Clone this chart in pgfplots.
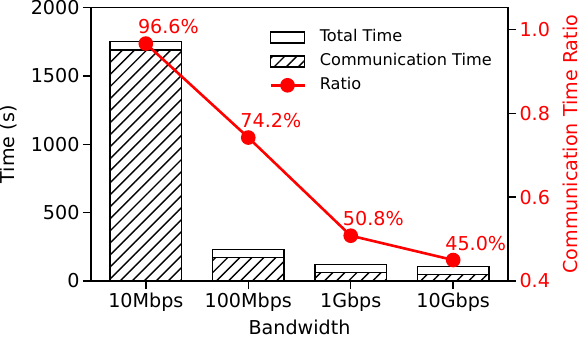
\documentclass[border=0pt]{standalone}
\usepackage{fontspec}
\setmainfont{DejaVu Sans}
\usepackage{pgfplots}
\pgfplotsset{compat=1.18}
\usetikzlibrary{patterns.meta}
\definecolor{cRatio}{HTML}{FF0000}

\newcommand{\fs}{\fontsize{19.2}{23}\selectfont}
\newcommand{\fl}{\fontsize{16.2}{19}\selectfont}

\pgfplotsset{
  basestyle/.style={
    scale only axis, width=417bp, height=273.5bp,
    xmin=-0.535, xmax=3.535,
    axis line style={line width=1.4bp},
    tick style={line width=1.4bp, black},
    major tick length=8bp,
    tick align=outside,
    tick label style={font=\fs},
    label style={font=\fs},
    /pgf/number format/assume math mode=true,
    /pgf/number format/1000 sep={},
  },
  totalbar/.style={fill=white, draw=black, line width=1.4bp},
  commbar/.style={draw=black, line width=1.4bp,
    pattern={Lines[angle=45, distance=8.5bp, line width=1.4bp]}, pattern color=black},
  myarea/.style={legend image code/.code={\draw[##1] (0bp,-5.5bp) rectangle (34bp,5.5bp);}},
  myline/.style={legend image code/.code={\draw[##1, mark repeat=2, mark phase=2] plot coordinates {(0bp,0bp)(17bp,0bp)(34bp,0bp)};}},
}

\begin{document}
\begin{tikzpicture}

% bars, left axis
\begin{axis}[
  basestyle,
  name=ax1,
  ymin=0, ymax=2000,
  ytick={0,500,1000,1500,2000},
  xtick={0,1,2,3},
  xticklabels={10Mbps,100Mbps,1Gbps,10Gbps},
  xtick pos=lower, ytick pos=left,
  ybar, bar width=0.7, bar shift=0pt,
  xlabel={Bandwidth},
  ylabel={Time (s)},
  xlabel style={at={(axis description cs:0.5,-0.197)}, anchor=base},
  ylabel style={at={(axis description cs:-0.198,0.5)}, anchor=center},
]
\addplot[totalbar] coordinates {(0,1750)(1,229)(2,120)(3,104)};
\addplot[commbar] coordinates {(0,1690)(1,170)(2,61)(3,47)};
\end{axis}

% ratio, right axis
\begin{axis}[
  basestyle,
  ymin=0.4, ymax=1.052,
  axis x line=none,
  axis y line*=right,
  ytick={0.4,0.6,0.8,1.0},
  yticklabel style={text=cRatio,
    /pgf/number format/fixed, /pgf/number format/fixed zerofill,
    /pgf/number format/precision=1},
  ylabel={Communication Time Ratio},
  ylabel style={text=cRatio, at={(axis description cs:1.149,0.5)}, anchor=center},
  legend style={
    at={(axis description cs:0.427,0.921)}, anchor=north west,
    draw=none, fill=none, font=\fl, inner sep=0pt,
    nodes={inner sep=0pt, text height=12bp, text depth=4bp},
    row sep=8bp, column sep=14bp,
  },
  legend cell align=left,
]
\addlegendimage{myarea, totalbar}
\addlegendentry{Total Time}
\addlegendimage{myarea, commbar}
\addlegendentry{Communication Time}
\addplot[myline, color=cRatio, line width=2.6bp, mark=*, mark size=6bp,
  mark options={solid, fill=cRatio}]
  coordinates {(0,0.966)(1,0.742)(2,0.508)(3,0.450)};
\addlegendentry{Ratio}

\node[text=cRatio, font=\fs, anchor=base west, inner sep=0pt, xshift=-8bp, yshift=10bp] at (axis cs:0,0.966) {96.6\%};
\node[text=cRatio, font=\fs, anchor=base west, inner sep=0pt, xshift=-8bp, yshift=10bp] at (axis cs:1,0.742) {74.2\%};
\node[text=cRatio, font=\fs, anchor=base west, inner sep=0pt, xshift=-8bp, yshift=10bp] at (axis cs:2,0.508) {50.8\%};
\node[text=cRatio, font=\fs, anchor=base west, inner sep=0pt, xshift=-8bp, yshift=10bp] at (axis cs:3,0.450) {45.0\%};
\end{axis}

\pgfresetboundingbox
\path[use as bounding box] ([shift={(-91bp,-60bp)}]ax1.south west) rectangle ([shift={(73bp,7.5bp)}]ax1.north east);
\end{tikzpicture}
\end{document}
